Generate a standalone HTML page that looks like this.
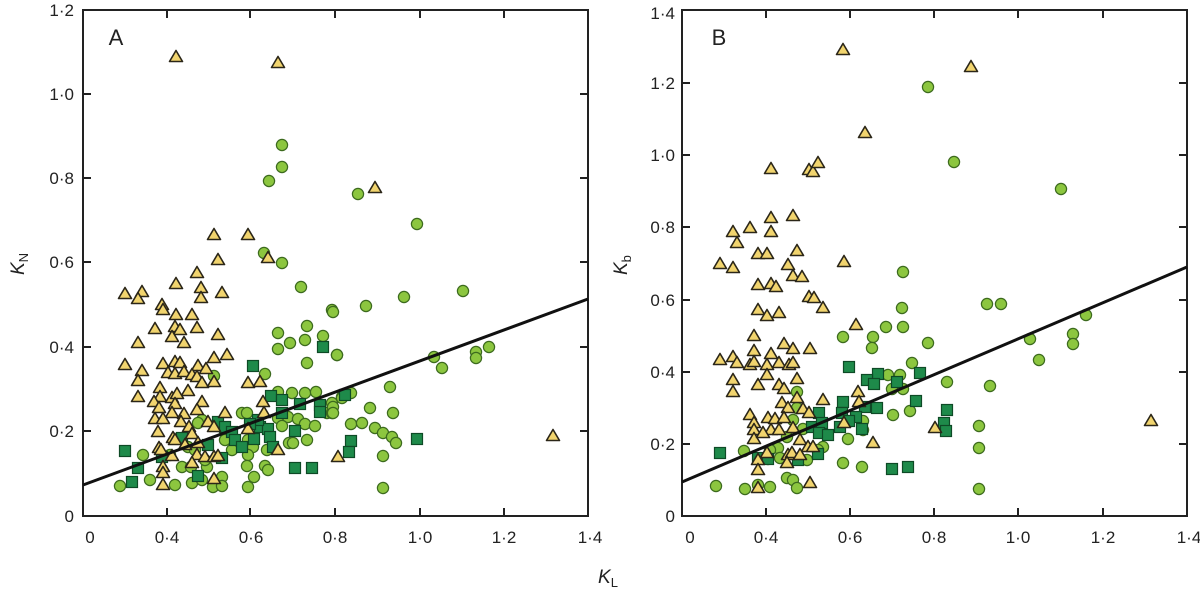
<!DOCTYPE html>
<html><head><meta charset="utf-8"><style>
html,body{margin:0;padding:0;background:#fff;}
svg{display:block;font-family:"Liberation Sans",sans-serif;}
</style></head><body>
<svg width="1200" height="589" viewBox="0 0 1200 589" xmlns="http://www.w3.org/2000/svg">
<defs>
<polygon id="t" points="0,-6.5 6.5,4.5 -6.5,4.5" fill="#f1d46e" stroke="#2b2618" stroke-width="1.6" stroke-linejoin="round"/>
<circle id="c" r="5.6" fill="#8cc63f" stroke="#3c6a1e" stroke-width="1.2"/>
<rect id="s" x="-5.5" y="-5.5" width="11" height="11" fill="#1e8a4a" stroke="#0e4a26" stroke-width="1.2"/>
</defs>
<g stroke="#222" stroke-width="2" fill="none">
<rect x="83" y="10" width="505" height="506"/>
<rect x="682" y="10" width="505" height="506"/>
<path d="M167,516v-8M250,516v-8M335,516v-8M420,516v-8M504,516v-8M167,10v8M250,10v8M335,10v8M420,10v8M504,10v8
M83,94h8M83,178h8M83,262h8M83,347h8M83,431h8M588,94h-8M588,178h-8M588,262h-8M588,347h-8M588,431h-8
M766,516v-8M850,516v-8M934,516v-8M1018,516v-8M1103,516v-8M766,10v8M850,10v8M934,10v8M1018,10v8M1103,10v8
M682,444h8M682,372h8M682,300h8M682,227h8M682,155h8M682,83h8M1187,444h-8M1187,372h-8M1187,300h-8M1187,227h-8M1187,155h-8M1187,83h-8"/>
</g>
<g font-size="17" fill="#222" text-anchor="end">
<text x="74" y="16">1·2</text><text x="74" y="100">1·0</text><text x="74" y="184">0·8</text><text x="74" y="268">0·6</text><text x="74" y="353">0·4</text><text x="74" y="437">0·2</text><text x="74" y="522">0</text>
<text x="675" y="19">1·4</text><text x="675" y="89">1·2</text><text x="675" y="161">1·0</text><text x="675" y="233">0·8</text><text x="675" y="306">0·6</text><text x="675" y="378">0·4</text><text x="675" y="450">0·2</text><text x="675" y="522">0</text>
</g>
<g font-size="17" fill="#222" text-anchor="middle">
<text x="90" y="543">0</text><text x="167" y="543">0·4</text><text x="251" y="543">0·6</text><text x="335" y="543">0·8</text><text x="420" y="543">1·0</text><text x="504" y="543">1·2</text><text x="590" y="543">1·4</text>
<text x="690" y="543">0</text><text x="766" y="543">0·4</text><text x="850" y="543">0·6</text><text x="934" y="543">0·8</text><text x="1018" y="543">1·0</text><text x="1103" y="543">1·2</text><text x="1189" y="543">1·4</text>
</g>
<text x="116" y="45" font-size="22" fill="#222" text-anchor="middle">A</text>
<text x="719" y="45" font-size="22" fill="#222" text-anchor="middle">B</text>
<text x="598" y="583" font-size="19" fill="#222" font-style="italic">K<tspan font-size="13" font-style="normal" dy="4">L</tspan></text>
<text transform="translate(24,275) rotate(-90)" font-size="19" fill="#222" font-style="italic">K<tspan font-size="13" font-style="normal" dy="4">N</tspan></text>
<text transform="translate(627,275) rotate(-90)" font-size="19" fill="#222" font-style="italic">K<tspan font-size="13" font-style="normal" dy="4">b</tspan></text>

<!-- Panel A circles -->
<g>
<use href="#c" x="282" y="145"/><use href="#c" x="282" y="167"/><use href="#c" x="269" y="181"/><use href="#c" x="358" y="194"/><use href="#c" x="417" y="224"/>
<use href="#c" x="264" y="253"/><use href="#c" x="282" y="263"/><use href="#c" x="301" y="287"/><use href="#c" x="332" y="310"/><use href="#c" x="307" y="326"/><use href="#c" x="278" y="333"/><use href="#c" x="323" y="336"/><use href="#c" x="290" y="343"/><use href="#c" x="305" y="340"/><use href="#c" x="278" y="349"/><use href="#c" x="337" y="355"/><use href="#c" x="307" y="363"/><use href="#c" x="265" y="374"/><use href="#c" x="214" y="376"/><use href="#c" x="278" y="392"/><use href="#c" x="292" y="393"/><use href="#c" x="305" y="393"/><use href="#c" x="316" y="392"/><use href="#c" x="342" y="397"/><use href="#c" x="332" y="403"/><use href="#c" x="327" y="413"/><use href="#c" x="332" y="413"/><use href="#c" x="242" y="413"/><use href="#c" x="247" y="413"/><use href="#c" x="202" y="420"/><use href="#c" x="198" y="423"/><use href="#c" x="278" y="418"/><use href="#c" x="288" y="417"/><use href="#c" x="298" y="419"/><use href="#c" x="305" y="424"/><use href="#c" x="315" y="426"/><use href="#c" x="282" y="426"/><use href="#c" x="289" y="443"/><use href="#c" x="293" y="443"/><use href="#c" x="307" y="440"/><use href="#c" x="225" y="440"/><use href="#c" x="248" y="440"/><use href="#c" x="253" y="447"/><use href="#c" x="248" y="455"/><use href="#c" x="267" y="450"/><use href="#c" x="188" y="447"/><use href="#c" x="195" y="450"/><use href="#c" x="143" y="455"/><use href="#c" x="182" y="467"/><use href="#c" x="191" y="467"/><use href="#c" x="207" y="467"/><use href="#c" x="247" y="466"/><use href="#c" x="265" y="466"/><use href="#c" x="268" y="470"/><use href="#c" x="254" y="477"/><use href="#c" x="222" y="477"/><use href="#c" x="150" y="480"/><use href="#c" x="175" y="485"/><use href="#c" x="192" y="483"/><use href="#c" x="202" y="480"/><use href="#c" x="213" y="487"/><use href="#c" x="222" y="486"/><use href="#c" x="248" y="487"/><use href="#c" x="120" y="486"/><use href="#c" x="170" y="455"/><use href="#c" x="205" y="460"/><use href="#c" x="232" y="450"/>
<use href="#c" x="463" y="291"/><use href="#c" x="404" y="297"/><use href="#c" x="366" y="306"/><use href="#c" x="333" y="312"/><use href="#c" x="337" y="355"/><use href="#c" x="434" y="357"/><use href="#c" x="476" y="352"/><use href="#c" x="476" y="358"/><use href="#c" x="489" y="347"/><use href="#c" x="442" y="368"/><use href="#c" x="390" y="387"/><use href="#c" x="351" y="393"/><use href="#c" x="342" y="398"/><use href="#c" x="333" y="407"/><use href="#c" x="333" y="413"/><use href="#c" x="370" y="408"/><use href="#c" x="393" y="413"/><use href="#c" x="351" y="424"/><use href="#c" x="362" y="423"/><use href="#c" x="375" y="428"/><use href="#c" x="383" y="433"/><use href="#c" x="392" y="437"/><use href="#c" x="396" y="443"/><use href="#c" x="383" y="456"/><use href="#c" x="383" y="488"/>
</g>
<!-- Panel A squares -->
<g>
<use href="#s" x="253" y="366"/><use href="#s" x="323" y="347"/><use href="#s" x="125" y="451"/><use href="#s" x="138" y="468"/><use href="#s" x="132" y="482"/><use href="#s" x="198" y="476"/><use href="#s" x="295" y="468"/><use href="#s" x="312" y="468"/><use href="#s" x="295" y="431"/><use href="#s" x="271" y="396"/><use href="#s" x="282" y="400"/><use href="#s" x="282" y="413"/><use href="#s" x="300" y="404"/><use href="#s" x="320" y="405"/><use href="#s" x="320" y="412"/><use href="#s" x="218" y="422"/><use href="#s" x="225" y="427"/><use href="#s" x="232" y="432"/><use href="#s" x="235" y="440"/><use href="#s" x="242" y="447"/><use href="#s" x="254" y="439"/><use href="#s" x="260" y="427"/><use href="#s" x="268" y="429"/><use href="#s" x="270" y="437"/><use href="#s" x="273" y="447"/><use href="#s" x="258" y="420"/><use href="#s" x="250" y="424"/><use href="#s" x="208" y="445"/><use href="#s" x="222" y="458"/><use href="#s" x="162" y="457"/><use href="#s" x="182" y="438"/>
<use href="#s" x="345" y="395"/><use href="#s" x="351" y="441"/><use href="#s" x="349" y="452"/><use href="#s" x="417" y="439"/>
</g>
<!-- Panel A triangles -->
<g>
<use href="#t" x="176" y="57"/><use href="#t" x="278" y="63"/><use href="#t" x="375" y="188"/><use href="#t" x="553" y="436"/>
<use href="#t" x="214" y="235"/><use href="#t" x="248" y="235"/><use href="#t" x="218" y="260"/><use href="#t" x="268" y="258"/><use href="#t" x="197" y="273"/><use href="#t" x="176" y="284"/><use href="#t" x="201" y="288"/><use href="#t" x="222" y="293"/><use href="#t" x="125" y="294"/><use href="#t" x="142" y="292"/><use href="#t" x="138" y="299"/><use href="#t" x="201" y="298"/><use href="#t" x="162" y="305"/><use href="#t" x="163" y="310"/><use href="#t" x="176" y="315"/><use href="#t" x="192" y="315"/><use href="#t" x="155" y="329"/><use href="#t" x="175" y="327"/><use href="#t" x="180" y="330"/><use href="#t" x="197" y="328"/><use href="#t" x="172" y="337"/><use href="#t" x="218" y="335"/><use href="#t" x="138" y="343"/><use href="#t" x="184" y="343"/><use href="#t" x="227" y="355"/><use href="#t" x="214" y="358"/><use href="#t" x="125" y="365"/><use href="#t" x="163" y="364"/><use href="#t" x="175" y="362"/><use href="#t" x="180" y="363"/><use href="#t" x="198" y="366"/><use href="#t" x="206" y="369"/><use href="#t" x="142" y="371"/><use href="#t" x="168" y="373"/><use href="#t" x="175" y="374"/><use href="#t" x="184" y="372"/><use href="#t" x="192" y="375"/><use href="#t" x="197" y="377"/><use href="#t" x="138" y="381"/><use href="#t" x="202" y="383"/><use href="#t" x="214" y="382"/><use href="#t" x="248" y="383"/><use href="#t" x="260" y="382"/><use href="#t" x="160" y="388"/><use href="#t" x="138" y="397"/><use href="#t" x="188" y="391"/><use href="#t" x="160" y="397"/><use href="#t" x="172" y="398"/><use href="#t" x="177" y="394"/><use href="#t" x="154" y="402"/><use href="#t" x="175" y="404"/><use href="#t" x="202" y="402"/><use href="#t" x="159" y="408"/><use href="#t" x="263" y="402"/><use href="#t" x="172" y="413"/><use href="#t" x="184" y="414"/><use href="#t" x="197" y="410"/><use href="#t" x="225" y="413"/><use href="#t" x="155" y="419"/><use href="#t" x="163" y="419"/><use href="#t" x="181" y="422"/><use href="#t" x="208" y="422"/><use href="#t" x="264" y="413"/><use href="#t" x="158" y="432"/><use href="#t" x="189" y="427"/><use href="#t" x="214" y="427"/><use href="#t" x="248" y="429"/><use href="#t" x="173" y="438"/><use href="#t" x="192" y="434"/><use href="#t" x="159" y="448"/><use href="#t" x="175" y="440"/><use href="#t" x="185" y="445"/><use href="#t" x="198" y="443"/><use href="#t" x="161" y="450"/><use href="#t" x="172" y="456"/><use href="#t" x="197" y="455"/><use href="#t" x="205" y="457"/><use href="#t" x="214" y="457"/><use href="#t" x="218" y="456"/><use href="#t" x="278" y="450"/><use href="#t" x="192" y="463"/><use href="#t" x="163" y="467"/><use href="#t" x="163" y="473"/><use href="#t" x="214" y="479"/><use href="#t" x="163" y="485"/><use href="#t" x="338" y="457"/>
</g>
<line x1="83" y1="485" x2="588" y2="299" stroke="#111" stroke-width="3"/>

<!-- Panel B circles -->
<g>
<use href="#c" x="928" y="87"/><use href="#c" x="954" y="162"/><use href="#c" x="1061" y="189"/>
<use href="#c" x="987" y="304"/><use href="#c" x="1001" y="304"/><use href="#c" x="1086" y="315"/><use href="#c" x="1030" y="339"/><use href="#c" x="1073" y="334"/><use href="#c" x="1073" y="344"/><use href="#c" x="1039" y="360"/><use href="#c" x="947" y="382"/><use href="#c" x="990" y="386"/><use href="#c" x="979" y="426"/><use href="#c" x="979" y="448"/><use href="#c" x="979" y="489"/>
<use href="#c" x="903" y="272"/><use href="#c" x="902" y="308"/><use href="#c" x="903" y="327"/><use href="#c" x="886" y="327"/><use href="#c" x="873" y="337"/><use href="#c" x="843" y="337"/><use href="#c" x="872" y="348"/><use href="#c" x="928" y="343"/><use href="#c" x="912" y="363"/><use href="#c" x="888" y="375"/><use href="#c" x="900" y="375"/><use href="#c" x="892" y="389"/><use href="#c" x="903" y="389"/><use href="#c" x="797" y="392"/><use href="#c" x="797" y="408"/><use href="#c" x="893" y="415"/><use href="#c" x="910" y="411"/><use href="#c" x="863" y="421"/><use href="#c" x="863" y="430"/><use href="#c" x="793" y="420"/><use href="#c" x="803" y="429"/><use href="#c" x="848" y="439"/><use href="#c" x="823" y="447"/><use href="#c" x="818" y="450"/><use href="#c" x="787" y="437"/><use href="#c" x="778" y="448"/><use href="#c" x="770" y="450"/><use href="#c" x="744" y="451"/><use href="#c" x="780" y="458"/><use href="#c" x="768" y="459"/><use href="#c" x="843" y="463"/><use href="#c" x="862" y="467"/><use href="#c" x="807" y="460"/><use href="#c" x="787" y="478"/><use href="#c" x="793" y="480"/><use href="#c" x="797" y="488"/><use href="#c" x="770" y="487"/><use href="#c" x="758" y="485"/><use href="#c" x="745" y="489"/><use href="#c" x="716" y="486"/>
</g>
<!-- Panel B squares -->
<g>
<use href="#s" x="849" y="367"/><use href="#s" x="878" y="374"/><use href="#s" x="867" y="380"/><use href="#s" x="874" y="384"/><use href="#s" x="897" y="382"/><use href="#s" x="920" y="373"/><use href="#s" x="916" y="401"/><use href="#s" x="877" y="408"/><use href="#s" x="865" y="407"/><use href="#s" x="843" y="402"/><use href="#s" x="842" y="413"/><use href="#s" x="819" y="413"/><use href="#s" x="856" y="417"/><use href="#s" x="849" y="421"/><use href="#s" x="862" y="429"/><use href="#s" x="812" y="427"/><use href="#s" x="822" y="423"/><use href="#s" x="819" y="433"/><use href="#s" x="828" y="435"/><use href="#s" x="840" y="427"/><use href="#s" x="947" y="410"/><use href="#s" x="944" y="423"/><use href="#s" x="946" y="431"/><use href="#s" x="720" y="453"/><use href="#s" x="758" y="458"/><use href="#s" x="768" y="459"/><use href="#s" x="798" y="460"/><use href="#s" x="818" y="454"/><use href="#s" x="892" y="469"/><use href="#s" x="908" y="467"/>
</g>
<!-- Panel B triangles -->
<g>
<use href="#t" x="843" y="50"/><use href="#t" x="971" y="67"/><use href="#t" x="865" y="133"/><use href="#t" x="771" y="169"/><use href="#t" x="809" y="170"/><use href="#t" x="813" y="172"/><use href="#t" x="818" y="163"/><use href="#t" x="844" y="262"/><use href="#t" x="1151" y="421"/>
<use href="#t" x="793" y="216"/><use href="#t" x="771" y="218"/><use href="#t" x="750" y="228"/><use href="#t" x="771" y="232"/><use href="#t" x="733" y="232"/><use href="#t" x="737" y="243"/><use href="#t" x="758" y="254"/><use href="#t" x="767" y="254"/><use href="#t" x="797" y="251"/><use href="#t" x="720" y="264"/><use href="#t" x="733" y="268"/><use href="#t" x="788" y="265"/><use href="#t" x="793" y="276"/><use href="#t" x="802" y="277"/><use href="#t" x="758" y="285"/><use href="#t" x="771" y="284"/><use href="#t" x="776" y="287"/><use href="#t" x="809" y="297"/><use href="#t" x="814" y="298"/><use href="#t" x="823" y="308"/><use href="#t" x="758" y="310"/><use href="#t" x="767" y="316"/><use href="#t" x="779" y="313"/><use href="#t" x="856" y="325"/><use href="#t" x="754" y="336"/><use href="#t" x="784" y="344"/><use href="#t" x="793" y="349"/><use href="#t" x="810" y="349"/><use href="#t" x="754" y="351"/><use href="#t" x="720" y="360"/><use href="#t" x="733" y="357"/><use href="#t" x="737" y="363"/><use href="#t" x="750" y="365"/><use href="#t" x="754" y="362"/><use href="#t" x="771" y="354"/><use href="#t" x="767" y="365"/><use href="#t" x="779" y="363"/><use href="#t" x="789" y="365"/><use href="#t" x="793" y="363"/><use href="#t" x="767" y="375"/><use href="#t" x="733" y="380"/><use href="#t" x="733" y="392"/><use href="#t" x="758" y="385"/><use href="#t" x="779" y="385"/><use href="#t" x="784" y="389"/><use href="#t" x="797" y="379"/><use href="#t" x="797" y="398"/><use href="#t" x="782" y="403"/><use href="#t" x="788" y="408"/><use href="#t" x="803" y="409"/><use href="#t" x="809" y="413"/><use href="#t" x="823" y="400"/><use href="#t" x="858" y="392"/><use href="#t" x="859" y="402"/><use href="#t" x="750" y="415"/><use href="#t" x="754" y="423"/><use href="#t" x="768" y="418"/><use href="#t" x="775" y="419"/><use href="#t" x="784" y="418"/><use href="#t" x="771" y="430"/><use href="#t" x="754" y="430"/><use href="#t" x="754" y="439"/><use href="#t" x="763" y="433"/><use href="#t" x="779" y="430"/><use href="#t" x="793" y="428"/><use href="#t" x="800" y="440"/><use href="#t" x="808" y="447"/><use href="#t" x="813" y="447"/><use href="#t" x="767" y="453"/><use href="#t" x="758" y="460"/><use href="#t" x="788" y="455"/><use href="#t" x="792" y="453"/><use href="#t" x="800" y="455"/><use href="#t" x="787" y="463"/><use href="#t" x="758" y="470"/><use href="#t" x="810" y="483"/><use href="#t" x="758" y="488"/><use href="#t" x="844" y="423"/><use href="#t" x="873" y="443"/><use href="#t" x="935" y="428"/>
</g>
<line x1="682" y1="482" x2="1187" y2="267" stroke="#111" stroke-width="3"/>
</svg>
</body></html>
